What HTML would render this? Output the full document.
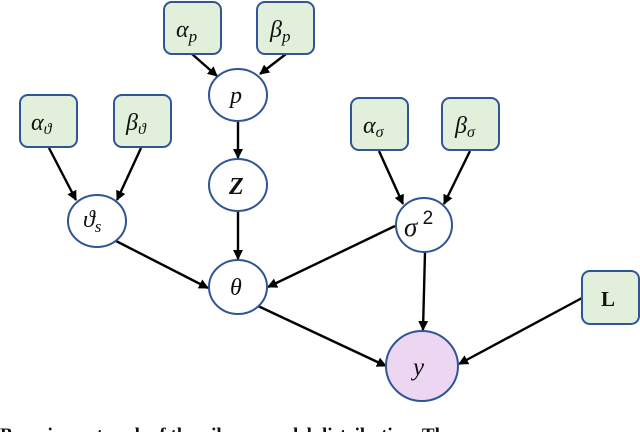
<!DOCTYPE html>
<html><head><meta charset="utf-8"><style>
html,body{margin:0;padding:0;background:#fff;width:640px;height:432px;overflow:hidden}
</style></head><body>
<svg width="640" height="432" viewBox="0 0 640 432" xmlns="http://www.w3.org/2000/svg">
<defs><marker id="a" markerWidth="10" markerHeight="10" refX="9" refY="5" orient="auto" markerUnits="userSpaceOnUse"><path d="M0,0 L10,5 L0,10 z" fill="#000"/></marker></defs>
<g stroke="#000" stroke-width="2.4" marker-end="url(#a)">
<line x1="192" y1="54" x2="217" y2="76"/>
<line x1="286" y1="54" x2="260" y2="74"/>
<line x1="238" y1="122" x2="238" y2="158"/>
<line x1="238" y1="212" x2="238" y2="259"/>
<line x1="49" y1="148" x2="76" y2="200"/>
<line x1="141" y1="148" x2="117" y2="200"/>
<line x1="116" y1="241" x2="208" y2="288"/>
<line x1="379" y1="151" x2="403" y2="204"/>
<line x1="470" y1="151" x2="444" y2="204"/>
<line x1="395" y1="226" x2="268" y2="287"/>
<line x1="425" y1="252" x2="423" y2="330"/>
<line x1="258" y1="306" x2="386" y2="366"/>
<line x1="582" y1="298" x2="459" y2="364"/>
</g>
<g stroke="#2f5597" stroke-width="2" fill="#e2efda">
<rect x="164" y="2" width="57" height="52" rx="8"/>
<rect x="257" y="2" width="57" height="52" rx="8"/>
<rect x="20" y="95" width="57" height="52" rx="8"/>
<rect x="114" y="95" width="57" height="52" rx="8"/>
<rect x="351" y="98" width="57" height="52" rx="8"/>
<rect x="442" y="98" width="57" height="52" rx="8"/>
<rect x="582" y="271" width="57" height="53" rx="8"/>
</g>
<g stroke="#2f5597" stroke-width="2" fill="#fff">
<ellipse cx="238" cy="95" rx="29" ry="26"/>
<ellipse cx="238" cy="185" rx="29" ry="26"/>
<ellipse cx="97" cy="221" rx="29" ry="26"/>
<ellipse cx="238" cy="287" rx="29" ry="27"/>
<ellipse cx="424" cy="225" rx="28" ry="27"/>
<ellipse cx="422" cy="366" rx="36" ry="35" fill="#ecd6f2"/>
</g>
<g font-size="24" font-family="Liberation Serif, DejaVu Serif, serif" font-style="italic" fill="#111">
<text x="176" y="37">α<tspan font-size="17" dy="5">p</tspan></text>
<text x="270" y="37">β<tspan font-size="17" dy="5">p</tspan></text>
<text x="31" y="130">α<tspan font-size="16" dy="4">ϑ</tspan></text>
<text x="126" y="130">β<tspan font-size="16" dy="4">ϑ</tspan></text>
<text x="363" y="133">α<tspan font-size="16" dy="4">σ</tspan></text>
<text x="455" y="133">β<tspan font-size="16" dy="4">σ</tspan></text>
<text x="230" y="103">p</text>
<text x="229" y="194" font-weight="bold">Z</text>
<text x="83" y="227">ϑ<tspan font-size="17" dy="5">s</tspan></text>
<text x="230" y="295">θ</text>
<text x="404" y="236" font-size="27">σ<tspan font-size="19" dy="-12" font-style="normal" font-family="Liberation Sans, sans-serif"> 2</tspan></text>
<text x="413" y="375" font-size="25">y</text>
<text x="601" y="306" font-style="normal" font-weight="bold" font-size="21">L</text>
</g>
<text x="0" y="441" font-family="Liberation Serif, serif" font-weight="bold" font-size="19" fill="#111">Bayesian network of the pile-up model distribution. The</text>
</svg>
</body></html>
